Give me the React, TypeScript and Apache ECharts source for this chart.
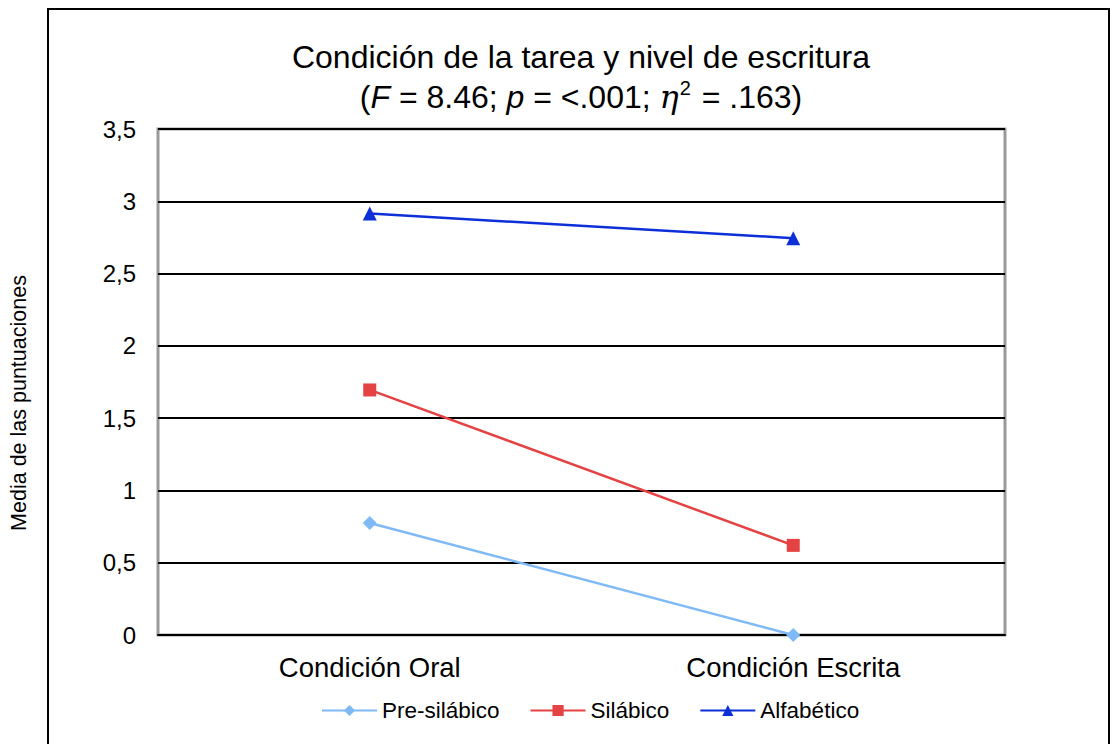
import React, { useEffect, useRef } from "react";
import * as echarts from "echarts";

const categories = ["Condición Oral", "Condición Escrita"];
const preSilabico = [0.775, 0.0];
const silabico = [1.695, 0.62];
const alfabetico = [2.915, 2.745];
const seriesNames = ["Pre-silábico", "Silábico", "Alfabético"];

const FONT = "'Liberation Sans', Arial, Helvetica, sans-serif";

export default function App() {
  const ref = useRef<HTMLDivElement>(null);
  useEffect(() => {
    if (!ref.current) return;
    const chart = echarts.init(ref.current, undefined, { renderer: "svg" });
    const option: any = {
      animation: false,
      backgroundColor: "#ffffff",
      textStyle: { fontFamily: FONT },
      grid: {
        left: 158,
        right: 1112 - 1005,
        top: 129,
        bottom: 744 - 635,
        show: true,
        borderColor: "#9a9a9a",
        borderWidth: 3,
        backgroundColor: "transparent",
      },
      legend: {
        data: seriesNames,
        top: 694,
        left: 316,
        itemWidth: 55,
        itemHeight: 14,
        itemGap: 30,
        textStyle: { fontSize: 22.5, color: "#000", fontFamily: FONT },
      },
      xAxis: {
        type: "category",
        data: categories,
        boundaryGap: true,
        axisLine: { show: true, lineStyle: { color: "#000", width: 2 } },
        axisTick: { show: false },
        axisLabel: { fontSize: 27.5, color: "#000", margin: 18, fontFamily: FONT },
        splitLine: { show: false },
      },
      yAxis: {
        type: "value",
        min: 0,
        max: 3.5,
        interval: 0.5,
        axisLine: { show: false },
        axisTick: { show: false },
        axisLabel: {
          fontSize: 24,
          color: "#000",
          margin: 22,
          fontFamily: FONT,
          formatter: (v: number) => String(v).replace(".", ","),
        },
        splitLine: { show: true, lineStyle: { color: "#000", width: 2 } },
      },
      series: [
        {
          name: seriesNames[0],
          type: "line",
          data: preSilabico,
          symbol: "diamond",
          symbolSize: 14,
          itemStyle: { color: "#7fbaf6" },
          lineStyle: { color: "#7fbaf6", width: 2.5 },
          z: 3,
        },
        {
          name: seriesNames[1],
          type: "line",
          data: silabico,
          symbol: "rect",
          symbolSize: 13,
          itemStyle: { color: "#e54343" },
          lineStyle: { color: "#e54343", width: 2.5 },
          z: 3,
        },
        {
          name: seriesNames[2],
          type: "line",
          data: alfabetico,
          symbol: "triangle",
          symbolSize: 14,
          itemStyle: { color: "#0d2fd8" },
          lineStyle: { color: "#0d2fd8", width: 2.5 },
          z: 3,
        },
      ],
      graphic: [
        {
          type: "rect",
          shape: { x: 48, y: 9, width: 1061, height: 760 },
          style: { fill: "none", stroke: "#000", lineWidth: 2 },
          silent: true,
        },
        {
          type: "text",
          x: 581,
          y: 57,
          style: {
            text: "Condición de la tarea y nivel de escritura",
            font: `32px ${FONT}`,
            fill: "#000",
            align: "center",
            verticalAlign: "middle",
          },
        },
        {
          type: "text",
          x: 581,
          y: 97,
          style: {
            text: "{n|(}{i|F}{n| = 8.46; }{i|p}{n| = <.001; }{e|η}{s|2}{n| = .163)}",
            align: "center",
            verticalAlign: "middle",
            fill: "#000",
            rich: {
              n: { fontSize: 32, fontFamily: FONT, fill: "#000", lineHeight: 38 },
              i: { fontSize: 32, fontFamily: FONT, fontStyle: "italic", fill: "#000", lineHeight: 38 },
              e: { fontSize: 32, fontFamily: "'DejaVu Serif', serif", fontStyle: "italic", fill: "#000", lineHeight: 38 },
              s: { fontSize: 20, fontFamily: FONT, fill: "#000", lineHeight: 38, verticalAlign: "top", padding: [0, 2, 12, 1] },
            },
          },
        },
        {
          type: "text",
          x: 19,
          y: 403,
          rotation: Math.PI / 2,
          style: {
            text: "Media de las puntuaciones",
            font: `21.5px ${FONT}`,
            fill: "#000",
            align: "center",
            verticalAlign: "middle",
          },
        },
      ],
    };
    chart.setOption(option);
    return () => chart.dispose();
  }, []);
  return (
    <div
      ref={ref}
      style={{ position: "absolute", left: 0, top: 0, width: 1112, height: 744 }}
    />
  );
}
